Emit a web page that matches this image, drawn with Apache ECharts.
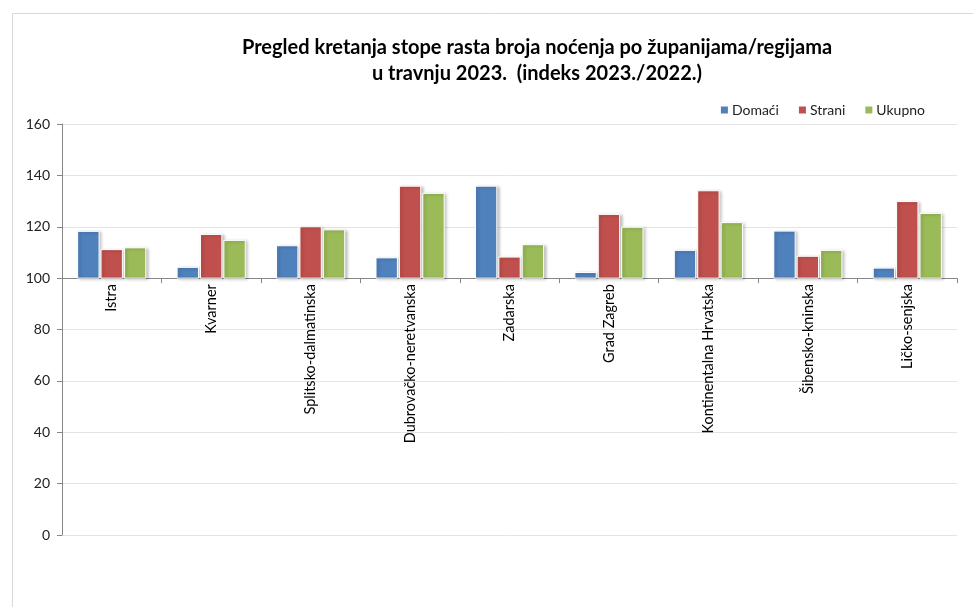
<!DOCTYPE html>
<html>
<head>
<meta charset="utf-8">
<script src="https://cdn.jsdelivr.net/npm/echarts@6/dist/echarts.min.js"></script>
<style>
html,body{margin:0;padding:0;background:#fff;}
#c{width:973px;height:607px;}
</style>
</head>
<body>
<div id="c"></div>
<script>
const categories = ['Istra','Kvarner','Splitsko-dalmatinska','Dubrovačko-neretvanska','Zadarska','Grad Zagreb','Kontinentalna Hrvatska','Šibensko-kninska','Ličko-senjska'];
const domaci = [118.2, 104.2, 112.6, 107.9, 135.8, 102.2, 110.8, 118.3, 103.9];
const strani = [111.1, 117.0, 120.0, 135.8, 108.2, 124.8, 134.0, 108.5, 129.8];
const ukupno = [111.8, 114.7, 118.8, 133.0, 113.0, 119.8, 121.6, 110.8, 125.2];
const seriesNames = ['Domaći','Strani','Ukupno'];
const yTicks = [0, 20, 40, 60, 80, 100, 120, 140, 160];
const baseValue = 100;

const colors = ['#4F81BD','#C0504D','#9BBB59'];
const FONT = 'Lato, "Open Sans", sans-serif';
const gridTop = 124, gridBottomPx = 535, gridLeft = 62, gridRight = 16;
const gridH = gridBottomPx - gridTop;
const yMin = yTicks[0], yMax = yTicks[yTicks.length-1];

function makeRender(sIdx){
  return function(params, api){
    const idx = api.value(0);
    const val = api.value(1);
    const p0 = api.coord([idx, baseValue]);
    const p1 = api.coord([idx, val]);
    const bandW = api.size([1,0])[0];
    const barW = bandW * 0.215;
    const gap = 2;
    const total = barW*3 + gap*2;
    const x = p0[0] - total/2 + sIdx*(barW+gap);
    const top = Math.min(p0[1], p1[1]);
    const h = Math.abs(p0[1]-p1[1]);
    return {
      type:'rect',
      shape:{x:x, y:top, width:barW, height:h},
      style:{fill:colors[sIdx], stroke:'#ffffff', lineWidth:1,
             shadowBlur:3, shadowOffsetX:2, shadowOffsetY:1, shadowColor:'rgba(0,0,0,0.25)'}
    };
  };
}

const dataSets = [domaci, strani, ukupno];
const series = dataSets.map((arr, i) => ({
  name: seriesNames[i],
  type: 'custom',
  renderItem: makeRender(i),
  itemStyle:{color:colors[i]},
  encode:{x:0, y:1},
  data: arr.map((v, j) => [j, v]),
  z: 3
}));

const chart = echarts.init(document.getElementById('c'), null, {renderer:'canvas'});
chart.setOption({
  backgroundColor:'#ffffff',
  animation:false,
  title:{
    text:'Pregled kretanja stope rasta broja noćenja po županijama/regijama\nu travnju 2023.  (indeks 2023./2022.)',
    left:532, top:30, textAlign:'center',
    textStyle:{fontFamily:FONT, fontSize:20, fontWeight:'bold', color:'#000', lineHeight:26}
  },
  legend:{
    data:seriesNames,
    right:43, top:98,
    icon:'rect', itemWidth:7, itemHeight:7, itemGap:20,
    textStyle:{fontFamily:FONT, fontSize:14, color:'#222', padding:[0,0,0,-1]}
  },
  grid:{left:gridLeft, right:gridRight, top:gridTop, height:gridH},
  xAxis:{
    type:'category',
    data:categories,
    position:'bottom',
    offset: -gridH*(baseValue-yMin)/(yMax-yMin),
    boundaryGap:true,
    axisLine:{onZero:false, lineStyle:{color:'#868686', width:1}},
    axisTick:{show:true, alignWithLabel:false, length:5, lineStyle:{color:'#868686'}},
    axisLabel:{rotate:90, interval:0, margin:6, fontFamily:FONT, fontSize:14.5, color:'#000'},
    splitLine:{show:false}
  },
  yAxis:{
    type:'value',
    min:yMin, max:yMax, interval:20,
    axisLine:{show:true, lineStyle:{color:'#868686'}},
    axisTick:{show:true, length:5, lineStyle:{color:'#868686'}},
    axisLabel:{fontFamily:FONT, fontSize:14, color:'#222', margin:12},
    splitLine:{show:true, lineStyle:{color:'#e4e4e4', width:1}}
  },
  graphic:[{
    type:'rect', left:10, top:11, silent:true,
    shape:{width:980, height:620},
    style:{fill:'none', stroke:'#d9d9d9', lineWidth:1}, z:-1
  }],
  series: series
});
</script>
</body>
</html>
